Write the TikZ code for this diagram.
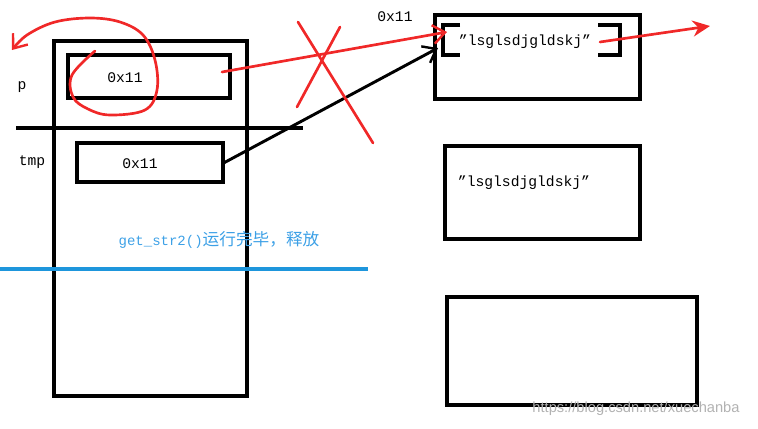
\documentclass[tikz,border=0pt]{standalone}
\usepackage{fontspec}
\setmonofont{Liberation Mono}
\newfontfamily\cjk{Noto Sans CJK SC}
\newfontfamily\wmfont{Liberation Sans}
\usetikzlibrary{arrows.meta}
\definecolor{penred}{RGB}{240,40,40}
\definecolor{lineblue}{RGB}{30,150,220}
\definecolor{textblue}{RGB}{60,160,230}

\tikzset{
  frame/.style={draw, line width=2.4pt, inner sep=0pt},
  cell/.style={draw, line width=2.3pt, inner sep=0pt},
  mono/.style={font=\ttfamily\fontsize{11}{13}\selectfont},
  pen/.style={penred, line width=2pt, line cap=round, line join=round},
  barb/.style={-{Straight Barb[length=9pt,width=14pt,line width=1.8pt]}}
}

\begin{document}
\begin{tikzpicture}[x=0.75pt, y=-0.75pt]
  \useasboundingbox (0,0) rectangle (758,429);

  % Stack frame of get_str2()
  \node[frame, minimum width=144.75pt, minimum height=266.25pt] (stack) at (150.5,218.5) {};
  \node[cell, minimum width=121.5pt, minimum height=32.25pt] (p) at (149,76.5) {};
  \node[cell, minimum width=109.5pt, minimum height=29.25pt] (tmp) at (150,162.5) {};
  \node[mono] (pval) at (125,78) {0x11};
  \node[mono] (tmpval) at (140,164) {0x11};
  \node[mono] (plabel) at (22,87) {p};
  \node[mono] (tmplabel) at (32,162) {tmp};
  \draw[line width=2.4pt] (16,128) -- (303,128);

  % Release line
  \node[text=textblue, font=\ttfamily\fontsize{10.5}{12}\selectfont] (freed) at (219,240)
    {get\_str2(){\cjk\fontsize{12.5}{14}\selectfont 运行完毕，释放}};
  \draw[lineblue, line width=2.4pt] (0,269) -- (368,269);

  % Heap blocks
  \node[frame, minimum width=153.75pt, minimum height=63pt] (heap1) at (537.5,57) {};
  \node[frame, minimum width=146.25pt, minimum height=69.75pt] (heap2) at (542.5,192.5) {};
  \node[frame, minimum width=187.5pt, minimum height=81pt] (heap3) at (572,351) {};
  \node[mono] (str1) at (525,42) {”lsglsdjgldskj”};
  \node[mono] (str2) at (524,183) {”lsglsdjgldskj”};
  \node[mono] (addr) at (395,17) {0x11};
  \draw[line width=2.4pt] (460,25) -- (443,25) -- (443,55) -- (460,55);
  \draw[line width=2.4pt] (598,25) -- (620,25) -- (620,55) -- (598,55);

  % Pointer arrows
  \coordinate (pout) at (222,72);
  \coordinate (phit) at (447,32);
  \coordinate (thit) at (438,48);
  \coordinate (sout) at (600,42);
  \coordinate (snext) at (710,26);
  \draw[line width=2.2pt, barb] (tmp.east) -- (thit);
  \draw[pen, barb] (pout) -- (phit);
  \draw[pen, -{Stealth[length=13pt,width=12pt]}] (sout) -- (snext);

  % Cross over the stack pointer
  \draw[pen] (298,22) -- (373,143);
  \draw[pen] (340,27) -- (297,107);

  % Loop round the value of p
  \draw[pen, barb] plot[smooth, tension=0.6] coordinates {
    (95,51) (72,75) (73,97) (88,109) (110,115) (145,110) (157,90) (155,60)
    (143,35) (120,22) (90,18) (55,22) (27,35) (12,50)};

  % Watermark
  \node[text=black!30, font=\wmfont\fontsize{11}{13}\selectfont] (mark) at (636,409)
    {https://blog.csdn.net/xuechanba};
\end{tikzpicture}
\end{document}
